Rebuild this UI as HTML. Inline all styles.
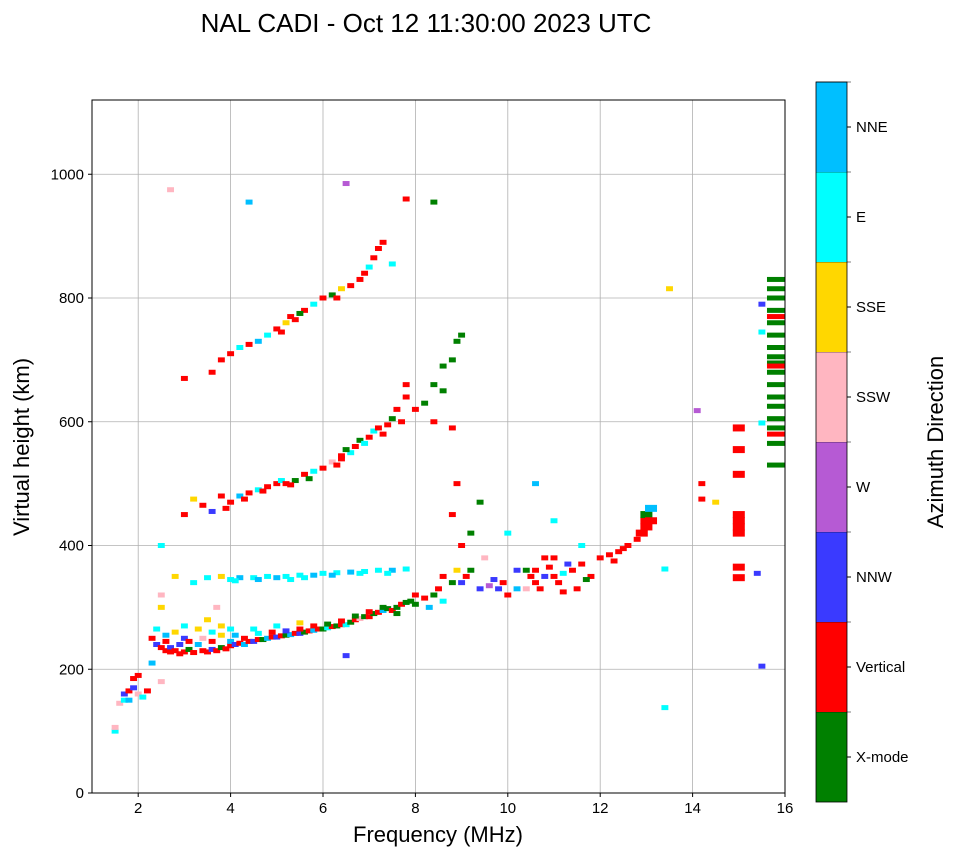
<!DOCTYPE html>
<html><head><meta charset="utf-8"><style>
body{margin:0;background:#fff;font-family:"Liberation Sans",sans-serif}
</style></head><body>
<svg id="chart" width="958" height="857" xmlns="http://www.w3.org/2000/svg" font-family="Liberation Sans, sans-serif">
<rect width="958" height="857" fill="#fff"/>
<text x="426" y="32" font-size="26" text-anchor="middle">NAL CADI - Oct 12 11:30:00 2023 UTC</text>
<g id="grid"></g>
<g id="marks"></g>
<rect x="92" y="100" width="693" height="693" fill="none" stroke="#000" stroke-width="1"/>
<g id="axes"></g>
<text x="438" y="842" font-size="22" text-anchor="middle">Frequency (MHz)</text>
<text transform="translate(29,447) rotate(-90)" font-size="22" text-anchor="middle">Virtual height (km)</text>
<g id="cbar"></g>
<text transform="translate(943,442) rotate(-90)" font-size="22" text-anchor="middle">Azimuth Direction</text>
</svg>
<script>
const xTicks=[2,4,6,8,10,12,14,16];
const yTicks=[0,200,400,600,800,1000];
const directions=["X-mode","Vertical","NNW","W","SSW","SSE","E","NNE"];
const dirColors=["#008000","#ff0000","#3a3aff","#b65ad4","#ffb6c1","#ffd700","#00ffff","#00bfff"];
// echoes: [frequency MHz, height km, direction index]
const echoes=[
[1.5,100,6],[1.5,106,4],[1.6,145,4],[1.7,150,6],[1.7,160,2],[1.8,150,7],[1.8,165,1],[1.9,170,2],[1.9,185,1],[2.0,160,4],[2.0,190,1],[2.1,155,6],[2.2,165,1],[2.3,210,7],[2.3,250,1],[2.4,240,2],[2.4,265,6],[2.5,300,5],[2.5,320,4],[2.5,180,4],[2.5,400,6],[2.6,230,1],[2.6,245,1],[2.7,235,2],[2.7,228,1],[2.8,260,5],[2.8,230,1],[2.9,225,1],[3.0,228,1],[3.0,250,2],[3.0,270,6],[3.1,232,0],[3.2,227,1],[3.3,240,7],[3.3,265,5],[3.4,230,1],[3.5,228,1],[3.5,280,5],[3.6,232,2],[3.6,260,6],[3.7,230,1],[3.7,300,4],[3.8,235,0],[3.8,270,5],[3.9,233,1],[4.0,238,1],[4.0,245,7],[4.0,265,6],[4.1,240,2],[4.2,242,1],[4.3,240,7],[4.4,245,1],[4.5,245,2],[4.5,265,6],[4.6,248,1],[4.7,248,0],[4.8,250,7],[4.9,252,1],[5.0,252,2],[5.0,270,6],[5.1,254,1],[5.2,255,0],[5.3,256,7],[5.4,258,1],[5.5,258,2],[5.5,275,5],[5.6,260,0],[5.7,262,1],[5.8,263,7],[5.9,265,1],[6.0,265,0],[6.1,267,6],[6.2,269,1],[6.3,270,0],[6.4,272,1],[6.5,272,6],[6.6,276,0],[6.7,280,1],[6.8,282,4],[6.9,285,0],[7.0,285,1],[7.1,290,0],[7.2,292,1],[7.3,295,7],[7.4,298,0],[7.5,295,1],[7.6,300,0],[7.7,305,1],[7.8,308,0],[8.0,305,0],[8.0,320,1],[8.2,315,1],[8.4,320,0],[8.5,330,1],[8.6,350,1],[8.8,340,0],[9.0,340,2],[9.0,400,1],[9.2,360,0],[9.4,330,2],[9.6,335,3],[9.8,330,2],[10.0,320,1],[10.0,420,6],[10.2,330,7],[10.4,330,4],[10.6,340,1],[10.6,360,1],[10.8,350,2],[11.0,350,1],[11.0,380,1],[11.2,355,6],[11.4,360,1],[11.6,370,1],[11.8,350,1],[12.0,380,1],[12.2,385,1],[12.4,390,1],[12.6,400,1],[12.8,410,1],[13.0,430,1],[13.0,440,1],[13.0,450,0],[13.1,460,7],[8.8,450,1],[8.9,500,1],[9.2,420,0],[9.4,470,0],[10.6,500,7],[11.0,440,6],[11.6,400,6],
[2.5,235,1],[2.6,255,7],[2.9,240,2],[3.1,245,1],[3.4,250,4],[3.6,245,1],[3.8,255,5],[4.1,255,7],[4.3,250,1],[4.6,258,6],[4.9,260,1],[5.2,262,2],[5.5,265,1],[5.8,270,1],[6.1,273,0],[6.4,278,1],[6.7,286,0],[7.0,293,1],[7.3,300,0],[7.6,290,0],[7.9,310,0],[8.3,300,7],[8.6,310,6],[8.9,360,5],[9.1,350,1],[9.5,380,4],[9.9,340,1],[10.2,360,2],[10.5,350,1],[10.7,330,1],[10.9,365,1],[11.1,340,1],[11.3,370,2],[11.5,330,1],[11.7,345,0],[12.3,375,1],[12.5,395,1],[12.9,420,1],[13.1,440,1],[10.8,380,1],[11.2,325,1],[10.4,360,0],[9.7,345,2],
[3.5,348,6],[3.8,350,5],[4.0,345,6],[4.2,348,7],[4.5,348,6],[4.8,350,6],[5.0,348,7],[5.2,350,6],[5.5,352,6],[5.8,352,7],[6.0,355,6],[6.3,356,6],[6.6,357,7],[6.9,358,6],[7.2,360,6],[7.5,360,7],[7.8,362,6],[2.8,350,5],[3.2,340,6],[4.1,343,6],[4.6,345,7],[5.3,345,6],[5.6,348,6],[6.2,352,7],[6.8,355,6],[7.4,355,6],
[3.0,450,1],[3.2,475,5],[3.4,465,1],[3.6,455,2],[3.8,480,1],[4.0,470,1],[4.2,480,7],[4.4,485,1],[4.6,490,6],[4.8,495,1],[5.0,500,1],[5.1,505,6],[5.2,500,1],[5.4,505,0],[5.6,515,1],[5.8,520,6],[6.0,525,1],[6.2,535,4],[6.4,545,1],[6.6,550,6],[6.7,560,1],[6.8,570,0],[7.0,575,1],[7.1,585,6],[7.2,590,1],[7.4,595,1],[7.5,605,0],[7.6,620,1],[7.8,640,1],[7.8,660,1],[8.2,630,0],[8.4,660,0],[8.6,690,0],[8.8,700,0],[9.0,740,0],[8.4,600,1],[8.8,590,1],[3.9,460,1],[4.3,475,1],[4.7,488,1],[5.3,498,1],[5.7,508,0],[6.3,530,1],[6.5,555,0],[6.9,565,6],[7.3,580,1],[7.7,600,1],[8.0,620,1],[8.6,650,0],[8.9,730,0],[6.4,540,1],
[3.0,670,1],[3.6,680,1],[3.8,700,1],[4.0,710,1],[4.2,720,6],[4.4,725,1],[4.6,730,7],[4.8,740,6],[5.0,750,1],[5.2,760,5],[5.4,765,1],[5.6,780,1],[5.8,790,6],[6.0,800,1],[6.2,805,0],[6.4,815,5],[6.6,820,1],[6.8,830,1],[7.0,850,6],[7.1,865,1],[7.2,880,1],[7.3,890,1],[7.5,855,6],[7.8,960,1],[8.4,955,0],[6.5,985,3],[2.7,975,4],[4.4,955,7],[5.3,770,1],[5.5,775,0],[5.1,745,1],[6.3,800,1],[6.9,840,1],
[14.1,618,3],[14.2,500,1],[14.2,475,1],[14.5,470,5],[15.0,590,1],[15.0,440,1],[15.0,430,1],[15.0,420,1],[15.0,450,1],[15.0,555,1],[15.0,515,1],[15.0,365,1],[15.0,348,1],[15.4,355,2],[15.5,205,2],[15.5,790,2],[15.5,745,6],[15.5,598,6],[13.5,815,5],[13.4,138,6],[13.4,362,6],[6.5,222,2],
[15.8,530,0],[15.8,565,0],[15.8,590,0],[15.8,605,0],[15.8,625,0],[15.8,640,0],[15.8,660,0],[15.8,680,0],[15.8,695,0],[15.8,705,0],[15.8,720,0],[15.8,740,0],[15.8,760,0],[15.8,780,0],[15.8,800,0],[15.8,815,0],[15.8,830,0],[15.8,580,1],[15.8,690,1],[15.8,770,1]
];
const NS="http://www.w3.org/2000/svg";
const X0=92,X1=785,Y0=793,Y1=100;
const xs=f=>X0+(f-1)/(16-1)*(X1-X0);
const ys=h=>Y0-h/1120*(Y0-Y1);
function mk(t,a,p){const e=document.createElementNS(NS,t);for(const k in a)e.setAttribute(k,a[k]);p.appendChild(e);return e;}
const grid=document.getElementById('grid'),axes=document.getElementById('axes'),marks=document.getElementById('marks'),cbar=document.getElementById('cbar');
xTicks.forEach(t=>{const x=xs(t);
const l=mk('line',{x1:x,x2:x,y1:Y1,y2:Y0,stroke:'#b0b0b0','stroke-width':0.8},grid);


mk('line',{x1:x,x2:x,y1:Y0,y2:Y0+4,stroke:'#000'},axes);
const tx=mk('text',{x:x,y:Y0+20,'font-size':15,'text-anchor':'middle'},axes);tx.textContent=t;

});
yTicks.forEach(t=>{const y=ys(t);
const l=mk('line',{x1:X0,x2:X1,y1:y,y2:y,stroke:'#b0b0b0','stroke-width':0.8},grid);


mk('line',{x1:X0-4,x2:X0,y1:y,y2:y,stroke:'#000'},axes);
const tx=mk('text',{x:X0-8,y:y+5,'font-size':15,'text-anchor':'end'},axes);tx.textContent=t;

});
echoes.forEach(e=>{const wide=e[0]>=15.6;const big=(e[0]>=12.9&&e[0]<=13.2)||(e[0]===15.0);
const w=xs(e[0]+(wide?0.38:big?0.26:0.15))-xs(e[0]);const h=big?7:5;
const r=mk('rect',{x:xs(e[0])-w/2,y:ys(e[1])-h/2,width:w,height:h,fill:dirColors[e[2]]},marks);

});
const CB0=82,CB1=802,CX=816,CW=31,seg=(CB1-CB0)/directions.length;
directions.forEach((d,i)=>{const y=CB1-(i+1)*seg;
const r=mk('rect',{x:CX,y:y,width:CW,height:seg,fill:dirColors[i]},cbar);


mk('line',{x1:CX+CW,x2:CX+CW+4,y1:y+seg/2,y2:y+seg/2,stroke:'#000'},cbar);
mk('line',{x1:CX,x2:CX+CW+4,y1:y,y2:y,stroke:'#000','stroke-width':0.5},cbar);
const tx=mk('text',{x:CX+CW+9,y:y+seg/2+5,'font-size':15},cbar);tx.textContent=d;

});
mk('rect',{x:CX,y:CB0,width:CW,height:CB1-CB0,fill:'none',stroke:'#000','stroke-width':0.8},cbar);
</script>
</body></html>
